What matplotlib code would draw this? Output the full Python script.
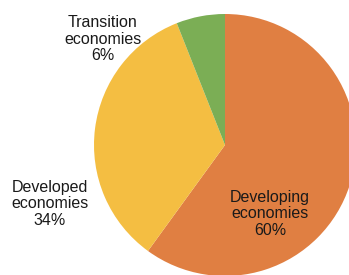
import matplotlib.pyplot as plt

# Datos del gráfico
categorias = ["Developing\neconomies", "Developed\neconomies", "Transition\neconomies"]
porcentajes = [60, 34, 6]
colores = ["#E07F42", "#F4BE42", "#7BAE55"]

# Posiciones de las etiquetas (pixeles, origen abajo a la izquierda)
pos_etiquetas = [(270, 61), (50, 71), (103, 236)]

plt.rcParams["font.family"] = ["Liberation Sans", "DejaVu Sans"]

fig = plt.figure(figsize=(3.49, 2.75), dpi=100)
ax = fig.add_axes([0, 0, 1, 1])

ax.pie(porcentajes, colors=colores, startangle=90, counterclock=False,
       center=(225, 130), radius=131, frame=True)
ax.set_xlim(0, 349)
ax.set_ylim(0, 275)
ax.axis("off")

for cat, pct, (x, y) in zip(categorias, porcentajes, pos_etiquetas):
    ax.text(x, y, f"{cat}\n{pct}%", ha="center", va="center",
            fontsize=11.5, color="#1a1a1a", linespacing=1.12)

fig.savefig("out.png", dpi=100)
